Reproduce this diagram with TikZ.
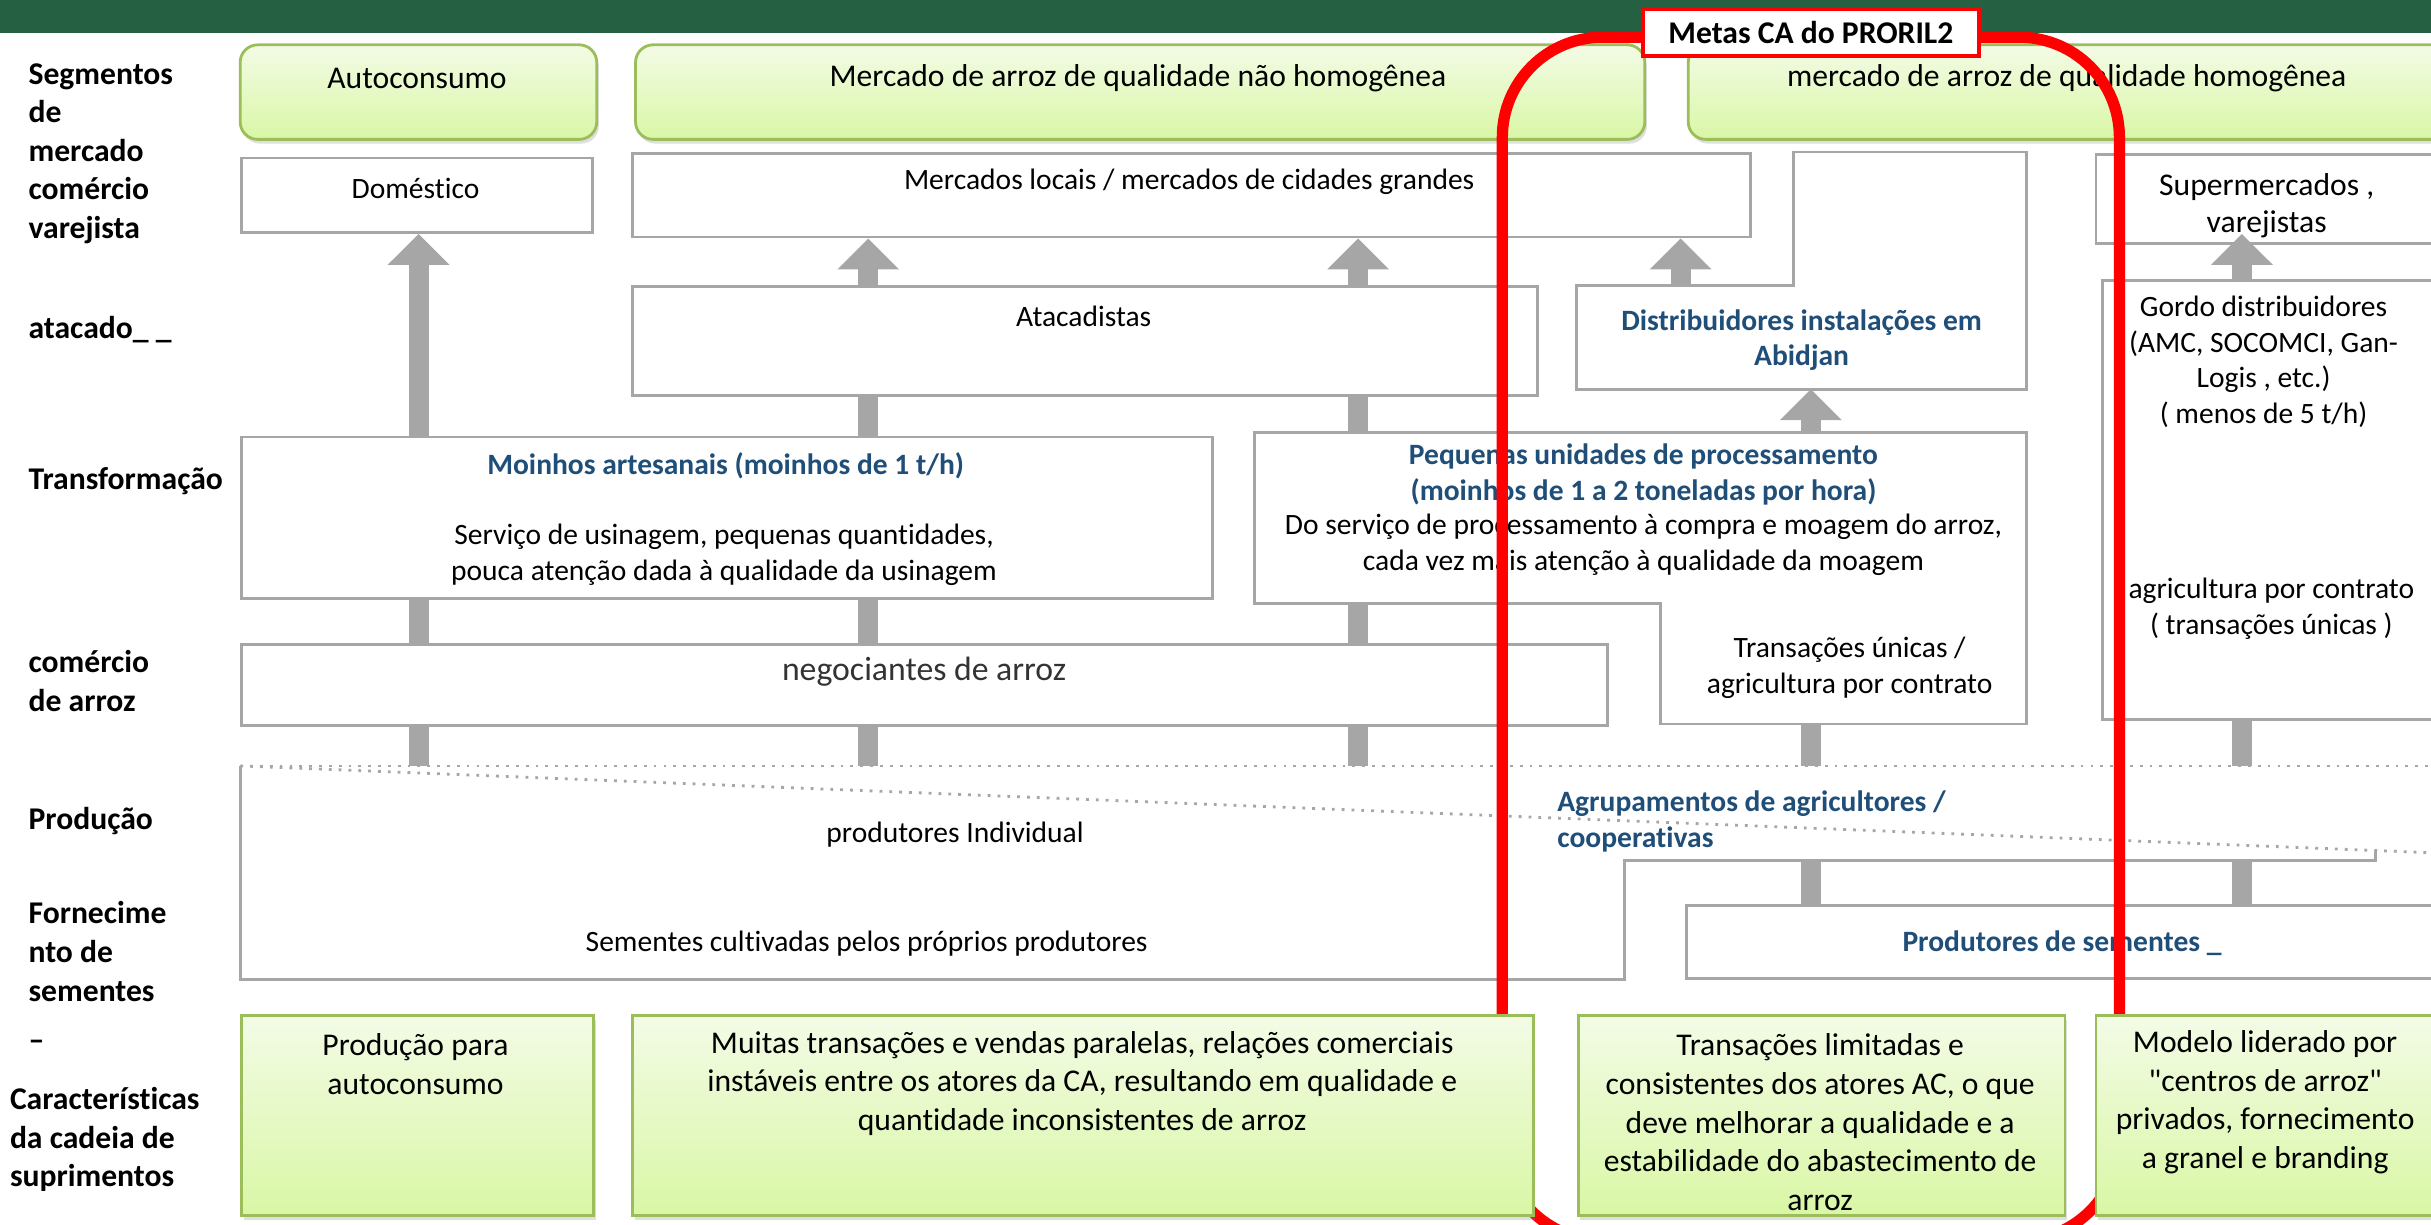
\documentclass[tikz,border=0pt]{standalone}
\usepackage{fontspec}
\setmainfont{Carlito}[Ligatures={NoCommon}]
\usetikzlibrary{arrows.meta}
\usetikzlibrary{shadows}
\usetikzlibrary{calc}

\definecolor{bandgreen}{RGB}{38,96,66}
\definecolor{boxgray}{RGB}{166,166,166}
\definecolor{greentop}{RGB}{243,251,230}
\definecolor{greenbot}{RGB}{217,247,165}
\definecolor{greenline}{RGB}{155,190,90}
\definecolor{titleblue}{RGB}{31,78,121}
\definecolor{metasred}{RGB}{255,0,0}

\def\px{0.015504cm}

\tikzset{
  wbox/.style 2 args={draw=boxgray,line width=0.8pt,fill=white,anchor=north west,
    inner sep=0pt,minimum width=#1*\px,minimum height=#2*\px},
  gbox/.style 2 args={draw=greenline,line width=0.8pt,top color=greentop,bottom color=greenbot,
    anchor=north west,inner sep=0pt,minimum width=#1*\px,minimum height=#2*\px,
    drop shadow={opacity=0.25,shadow xshift=0.6pt,shadow yshift=-1.2pt}},
  gtop/.style 2 args={gbox={#1}{#2},rounded corners=5pt},
  boxline/.style={draw=boxgray,line width=0.8pt,fill=white},
  dotline/.style={draw=boxgray,line width=0.8pt,dotted},
  lbl/.style={font=\bfseries,anchor=west,align=left,inner sep=0pt,yshift=-0.7pt},
  txt/.style={align=center,inner sep=0pt,yshift=-0.6pt},
  stxt/.style={txt,font=\fontsize{8.4}{10.2}\selectfont},
  btxt/.style={txt,font=\fontsize{8.4}{10.2}\selectfont\bfseries,text=titleblue},
  shaft/.style={draw=boxgray,line width=0.2cm},
  head/.style={shaft,-{Triangle[length=0.31cm,width=0.6cm]}},
  metas/.style={draw=metasred,line width=3.2pt,rounded corners=1cm}
}

\begin{document}
\fontsize{9}{11}\selectfont
\begin{tikzpicture}[x=\px,y=-\px]
\useasboundingbox (0,0) rectangle (1568,790);
\clip (0,0) rectangle (1568,790);

\fill[bandgreen] (0,0) rectangle (1568,21);

% columns of the arrows and levels of the odd shaped boxes
\coordinate (colA) at (270,0);
\coordinate (colB) at (560,0);
\coordinate (colC) at (876,0);
\coordinate (colD) at (1084,0);
\coordinate (colE) at (1168,0);
\coordinate (colF) at (1446,0);
\coordinate (distTop) at (0,184);
\coordinate (distBot) at (0,251);
\coordinate (peqTop) at (0,279);
\coordinate (peqBotL) at (0,389);
\coordinate (peqBotR) at (0,467);
\coordinate (prodTop) at (0,494);
\coordinate (prodStep) at (0,555);

% left column
\node[lbl] (l-seg) at (18,97.5) {Segmentos\\de\\mercado\\comércio\\varejista};
\node[lbl] (l-atac) at (18,211) {atacado\_ \_};
\node[lbl] (l-trans) at (18,309) {Transformação};
\node[lbl] (l-com) at (18,437.5) {comércio\\de arroz};
\node[lbl] (l-prod) at (18,528) {Produção};
\node[lbl] (l-forn) at (18,628) {Fornecime\\nto de\\sementes\\[3pt]–};
\node[lbl] (l-car) at (6,733.5) {Características\\da cadeia de\\suprimentos};

% market segments
\node[gtop={230}{61}] (auto) at (154,28) {};
\node[gtop={651}{61}] (naoh) at (409,28) {};
\node[gtop={520}{61}] (homo) at (1088,28) {};
\node[txt] (t-auto) at (269,49) {Autoconsumo};
\node[txt] (t-naoh) at (734,49) {Mercado de arroz de qualidade não homogênea};
\node[txt] (t-homo) at (1333,49) {mercado de arroz de qualidade homogênea};

% retail and wholesale
\node[wbox={226}{48}] (dom) at (155,101) {};
\node[wbox={721}{54}] (merc) at (407,98) {};
\node[wbox={250}{57}] (super) at (1351,99) {};
\node[wbox={584}{70}] (atac) at (407,184) {};
\draw[boxline] (1017,184) -- (1157,184) -- (1157,98) -- (1307,98) -- (1307,251) -- (1017,251) -- cycle;
\node[wbox={250}{283}] (gordo) at (1355,180) {};
\node[stxt] (t-dom) at (268,120) {Doméstico};
\node[stxt] (t-merc) at (767,116) {Mercados locais / mercados de cidades grandes};
\node[txt,font=\fontsize{9}{10.4}\selectfont] (t-super) at (1462,131.5) {Supermercados ,\\varejistas};
\node[stxt] (t-atac) at (699,203) {Atacadistas};
\node[btxt] (t-dist) at (1162,218) {Distribuidores instalações em\\Abidjan};
\node[stxt] (t-gordo) at (1460,232) {Gordo distribuidores\\(AMC, SOCOMCI, Gan-\\Logis , etc.)\\( menos de 5 t/h)};
\node[stxt] (t-contr) at (1465,391.5) {agricultura por contrato\\( transações únicas )};

% processing and rice trade
\node[wbox={626}{104}] (moin) at (155,281) {};
\draw[boxline] (809,279) -- (1307,279) -- (1307,467) -- (1071,467) -- (1071,389) -- (809,389) -- cycle;
\node[wbox={881}{52}] (nego) at (155,415) {};
\node[btxt] (t-moin) at (468,299) {Moinhos artesanais (moinhos de 1 t/h)};
\node[stxt] (t-usin) at (467,356.5) {Serviço de usinagem, pequenas quantidades,\\pouca atenção dada à qualidade da usinagem};
\node[btxt] (t-peq) at (1060,304.5) {Pequenas unidades de processamento\\(moinhos de 1 a 2 toneladas por hora)};
\node[stxt] (t-moag) at (1060,350) {Do serviço de processamento à compra e moagem do arroz,\\cada vez mais atenção à qualidade da moagem};
\node[stxt] (t-trans) at (1193,429.5) {Transações únicas /\\agricultura por contrato};
\node[txt,font=\fontsize{9.6}{11}\selectfont,text=black!80] (t-nego) at (596,432) {negociantes de arroz};

% production and seeds
\draw[boxgray,line width=0.8pt] (155,494) -- (155,632) -- (1048,632) -- (1048,555) -- (1532,555) -- (1532,549);
\draw[dotline] (155,494) -- (1568,494);
\draw[dotline] (155,494) -- (1568,550);
\node[wbox={520}{47}] (sem) at (1087,583) {};
\node[stxt] (t-indiv) at (616,537) {produtores Individual};
\node[stxt] (t-semc) at (559,607) {Sementes cultivadas pelos próprios produtores};
\node[btxt,anchor=west,align=left] (t-agru) at (1004,528.5) {Agrupamentos de agricultores /\\cooperativas};
\node[btxt] (t-sem) at (1330,607) {Produtores de sementes \_};

% flows
\draw[head] (moin.north -| colA) -- (dom.south -| colA);
\draw[shaft] (nego.north -| colA) -- (moin.south -| colA);
\draw[shaft] (prodTop -| colA) -- (nego.south -| colA);
\draw[shaft] (moin.north -| colB) -- (atac.south -| colB);
\draw[head] (atac.north -| colB) -- (merc.south -| colB);
\draw[shaft] (nego.north -| colB) -- (moin.south -| colB);
\draw[shaft] (prodTop -| colB) -- (nego.south -| colB);
\draw[shaft] (peqTop -| colC) -- (atac.south -| colC);
\draw[head] (atac.north -| colC) -- (merc.south -| colC);
\draw[shaft] (nego.north -| colC) -- (peqBotL -| colC);
\draw[shaft] (prodTop -| colC) -- (nego.south -| colC);
\draw[head] (distTop -| colD) -- (merc.south -| colD);
\draw[head] (peqTop -| colE) -- (distBot -| colE);
\draw[shaft] (prodTop -| colE) -- (peqBotR -| colE);
\draw[shaft] (sem.north -| colE) -- (prodStep -| colE);
\draw[head] (gordo.north -| colF) -- ($(super.south -| colF)+(0,-7)$);
\draw[shaft] (prodTop -| colF) -- (gordo.south -| colF);
\draw[shaft] (sem.north -| colF) -- (prodStep -| colF);

% PRORIL2 frame
\draw[metas] (969,24) rectangle (1367,800);

% supply chain features
\node[gbox={227}{129}] (g-auto) at (155,654) {};
\node[gbox={581}{129}] (g-para) at (407,654) {};
\node[gbox={314}{129}] (g-lim) at (1017,654) {};
\node[gbox={250}{129}] (g-mod) at (1351,654) {};
\node[txt] (t-gauto) at (268,685) {Produção para\\autoconsumo};
\node[txt] (t-gpara) at (698,697.5) {Muitas transações e vendas paralelas, relações comerciais\\instáveis entre os atores da CA, resultando em qualidade e\\quantidade inconsistentes de arroz};
\node[txt] (t-glim) at (1174,722.5) {Transações limitadas e\\consistentes dos atores AC, o que\\deve melhorar a qualidade e a\\estabilidade do abastecimento de\\arroz};
\node[txt] (t-gmod) at (1461,709.5) {Modelo liderado por\\\textquotedbl centros de arroz\textquotedbl\\privados, fornecimento\\a granel e branding};

\node[draw=metasred,line width=1.2pt,fill=white,font=\bfseries,inner sep=0pt,
  minimum width=217*\px,minimum height=30*\px] (metas) at (1168,21) {Metas CA do PRORIL2};

\end{tikzpicture}
\end{document}
